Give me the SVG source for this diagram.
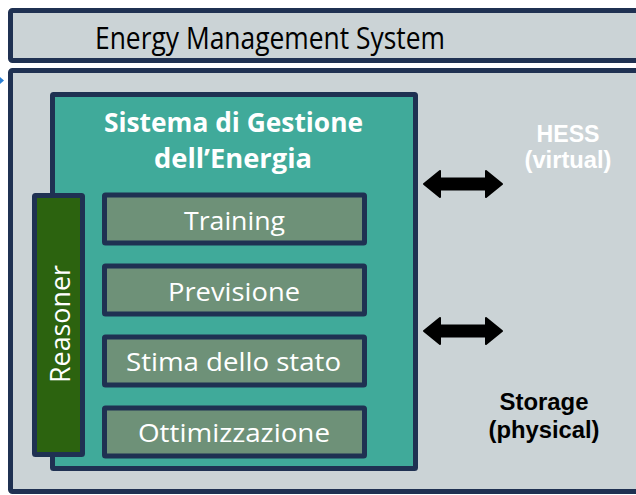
<svg xmlns="http://www.w3.org/2000/svg" width="636" height="495" viewBox="0 0 636 495">
<defs>
<style>
.frame{fill:#cbd3d6;stroke:#1f3152;stroke-width:5;}
.teal{fill:#40aa9a;stroke:#1f3152;stroke-width:5;}
.sub{fill:#6e9178;stroke:#1f3152;stroke-width:5;}
.reason{fill:#2c630f;stroke:#1f3152;stroke-width:5;}
.lbl{font-family:"Open Sans","Noto Sans","DejaVu Sans",sans-serif;fill:#ffffff;text-anchor:middle;}
.title{font-family:"Open Sans","Noto Sans","DejaVu Sans",sans-serif;fill:#000000;text-anchor:middle;font-size:31px;}
.bold{font-family:"Open Sans","Noto Sans","DejaVu Sans",sans-serif;font-weight:bold;fill:#ffffff;text-anchor:middle;font-size:26px;}
.side{font-family:"Liberation Sans",Arial,sans-serif;font-weight:bold;text-anchor:middle;font-size:23px;}
.arrow{fill:#000000;stroke:#000000;stroke-width:2;stroke-linejoin:round;}
</style>
</defs>
<rect x="0" y="0" width="636" height="495" fill="#ffffff"/>
<g id="ems-header">
<rect class="frame" x="10.5" y="10.5" width="640" height="50" rx="2"/>
<text class="title" x="270" y="49" textLength="350" lengthAdjust="spacingAndGlyphs">Energy Management System</text>
</g>
<g id="ems-body">
<rect class="frame" x="10.5" y="70.5" width="640" height="421" rx="2"/>
<polygon points="0,77 4,80.5 0,84" fill="#2a7fd4"/>
</g>
<g id="sistema">
<rect class="teal" x="52.5" y="94.5" width="363" height="374" rx="1"/>
<text class="bold" x="233.5" y="131.5" textLength="259" lengthAdjust="spacingAndGlyphs">Sistema di Gestione</text>
<text class="bold" x="233" y="168" textLength="158" lengthAdjust="spacingAndGlyphs">dell’Energia</text>
</g>
<g id="reasoner">
<rect class="reason" x="34.5" y="195.5" width="48" height="259" rx="1"/>
<text class="lbl" transform="translate(70,324) rotate(-90)" x="0" y="0" font-size="27" textLength="118" lengthAdjust="spacingAndGlyphs">Reasoner</text>
</g>
<g id="training">
<rect class="sub" x="104.5" y="195" width="260" height="48" rx="1"/>
<text class="lbl" x="234.5" y="229.5" font-size="26" textLength="101" lengthAdjust="spacingAndGlyphs">Training</text>
</g>
<g id="previsione">
<rect class="sub" x="104.5" y="266" width="260" height="48" rx="1"/>
<text class="lbl" x="234" y="300.5" font-size="26" textLength="132" lengthAdjust="spacingAndGlyphs">Previsione</text>
</g>
<g id="stima">
<rect class="sub" x="104.5" y="337" width="260" height="48" rx="1"/>
<text class="lbl" x="233.5" y="370.5" font-size="26" textLength="215" lengthAdjust="spacingAndGlyphs">Stima dello stato</text>
</g>
<g id="ottimizzazione">
<rect class="sub" x="104.5" y="408" width="260" height="48" rx="1"/>
<text class="lbl" x="234" y="441.5" font-size="26" textLength="192" lengthAdjust="spacingAndGlyphs">Ottimizzazione</text>
</g>
<g id="hess">
<text class="side" x="568" y="141.5" fill="#ffffff" textLength="63" lengthAdjust="spacingAndGlyphs">HESS</text>
<text class="side" x="568" y="168" fill="#ffffff" textLength="87" lengthAdjust="spacingAndGlyphs">(virtual)</text>
</g>
<g id="storage">
<text class="side" x="544" y="410" fill="#000000" textLength="89" lengthAdjust="spacingAndGlyphs">Storage</text>
<text class="side" x="544" y="437.5" fill="#000000" textLength="111" lengthAdjust="spacingAndGlyphs">(physical)</text>
</g>
<g id="connectors">
<path class="arrow" d="M424,184 L440,171 L440,178.5 L486,178.5 L486,171 L502,184 L486,197 L486,189.5 L440,189.5 L440,197 Z"/>
<path class="arrow" d="M424,331 L440,318 L440,325.5 L486,325.5 L486,318 L502,331 L486,344 L486,336.5 L440,336.5 L440,344 Z"/>
</g>
</svg>
